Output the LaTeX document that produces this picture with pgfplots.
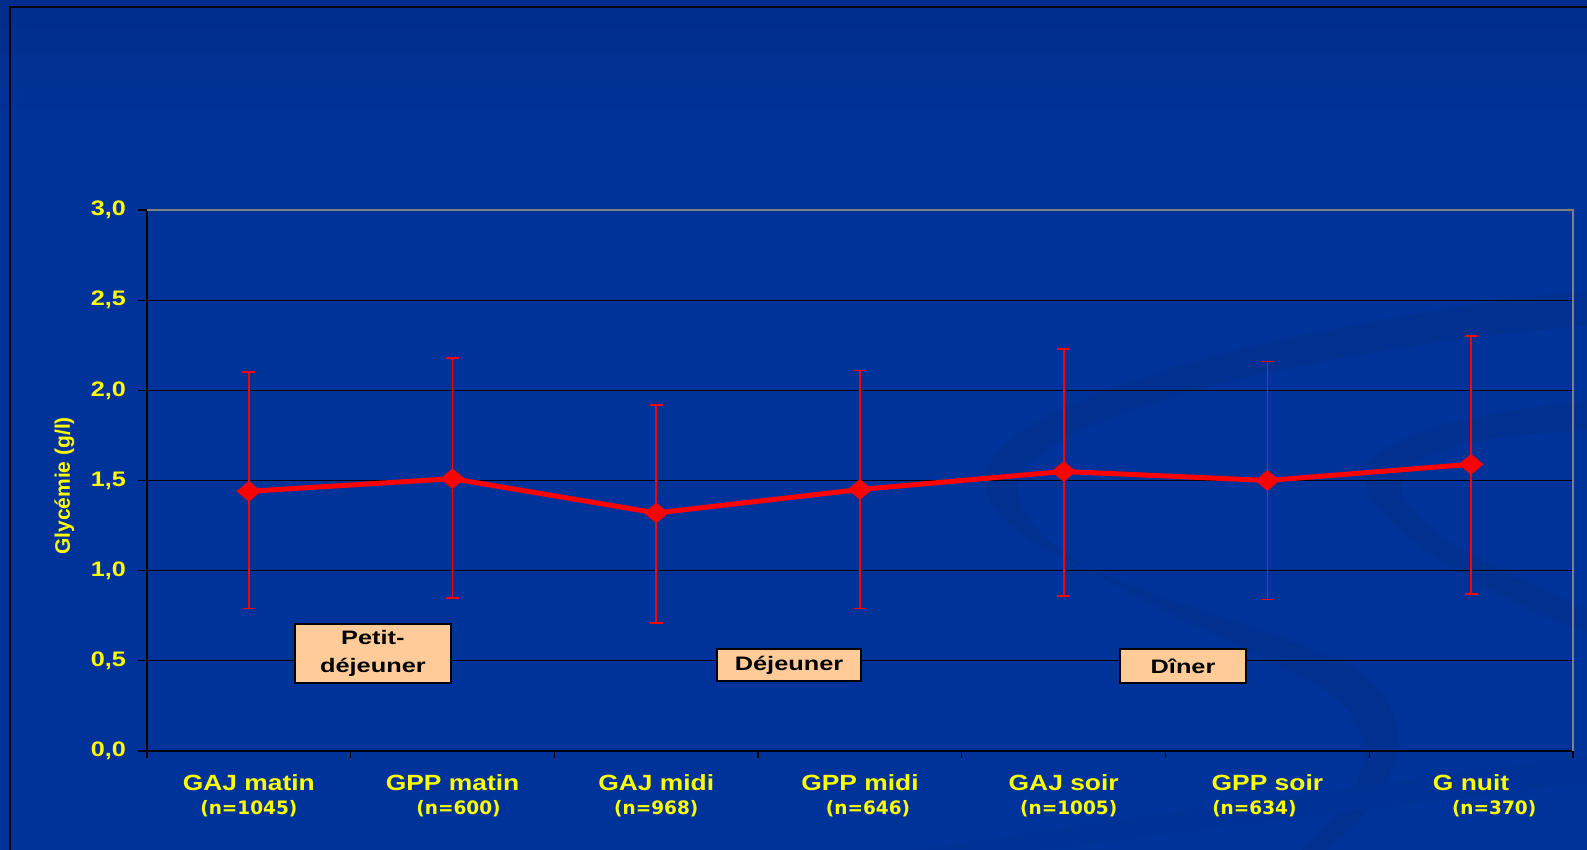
\documentclass[border=0pt]{standalone}
\usepackage{pgfplots}
\usepackage{pgfplotstable}
\pgfplotsset{compat=1.18}
\usepackage{fontspec}
\setmainfont{Liberation Sans}
\newfontfamily\catfont{Liberation Sans}[FakeStretch=1.2]
\newfontfamily\nfont{DejaVu Sans}
\newfontfamily\boxfont{Liberation Sans}[FakeStretch=1.3]

\definecolor{slideblue}{HTML}{003399}
\definecolor{slidedark}{HTML}{002D8A}
\definecolor{swoosh}{HTML}{003090}
\definecolor{swooshlight}{HTML}{003194}
\definecolor{txtyellow}{HTML}{FFFF00}
\definecolor{boxpeach}{HTML}{FFCC99}
\definecolor{framegray}{HTML}{808080}
\definecolor{curvered}{HTML}{FF0000}

% mean blood glucose (g/l) with upper / lower deviation
\pgfplotstableread{
x    y     ep    em
0.5  1.44  0.66  0.65
1.5  1.51  0.67  0.66
2.5  1.32  0.60  0.61
3.5  1.45  0.66  0.66
4.5  1.55  0.68  0.69
5.5  1.50  0.66  0.66
6.5  1.59  0.71  0.72
}\glycemie

\newcommand\cat[3][0pt]{{\catfont\bfseries\fontsize{22}{24}\selectfont #2}\\{\nfont\bfseries\fontsize{18.5}{24}\selectfont\hspace*{#1}#3}}

\begin{document}
\begin{tikzpicture}[x=1pt,y=1pt]
\path[use as bounding box] (0,0) rectangle (1587,850);
% slide background
\fill[slideblue] (-5,-5) rectangle (1592,855);
\shade[top color=slidedark, bottom color=slideblue] (-5,720) rectangle (1592,855);
% decorative swooshes
\fill[swoosh] (1592,560) .. controls (1300,530) and (985,450) .. (985,370)
  .. controls (985,290) and (1200,250) .. (1340,190)
  .. controls (1420,150) and (1420,70) .. (1320,-5) -- (1295,-5)
  .. controls (1385,70) and (1385,130) .. (1305,172)
  .. controls (1180,235) and (1018,295) .. (1018,362)
  .. controls (1018,430) and (1300,500) .. (1592,525) -- cycle;
\fill[swoosh] (1592,450) .. controls (1450,435) and (1365,410) .. (1365,372)
  .. controls (1365,330) and (1470,260) .. (1592,215) -- (1592,240)
  .. controls (1480,285) and (1398,330) .. (1402,366)
  .. controls (1406,400) and (1480,415) .. (1592,420) -- cycle;
\fill[swooshlight] (880,-5) .. controls (1150,35) and (1400,70) .. (1592,95) -- (1592,68)
  .. controls (1400,45) and (1150,15) .. (1010,-5) -- cycle;
% slide frame
\draw[black, line width=2.5pt] (10,-5) -- (10,843) -- (1592,843);

\begin{axis}[
  at={(147pt,99pt)}, anchor=south west,
  scale only axis, width=1426pt, height=541pt,
  xmin=0, xmax=7, ymin=0, ymax=3,
  axis x line*=bottom, axis y line*=left,
  x axis line style={-, black, line width=2pt},
  y axis line style={-, black, line width=2pt},
  ymajorgrids, grid style={black, line width=1.3pt},
  ytick={0,0.5,...,3},
  tick align=outside,
  ytick style={black, line width=1.3pt},
  major tick length=9pt,
  yticklabel style={font=\catfont\bfseries\fontsize{21}{24}\selectfont, text=txtyellow, inner sep=0pt, xshift=-12pt},
  /pgf/number format/.cd, fixed, fixed zerofill, precision=1, use comma, assume math mode=true,
  /pgfplots/.cd,
  xtick={0.5,1.5,...,6.5},
  xtick style={draw=none},
  xticklabels={
    \cat{GAJ matin}{(n=1045)},
    \cat[12pt]{GPP matin}{(n=600)},
    \cat{GAJ midi}{(n=968)},
    \cat[16pt]{GPP midi}{(n=646)},
    \cat[10pt]{GAJ soir}{(n=1005)},
    \cat[-26pt]{GPP soir}{(n=634)},
    \cat[46pt]{G nuit}{(n=370)}},
  xticklabel style={align=center, text=txtyellow, inner sep=0pt, yshift=-14pt, font=\fontsize{22}{24}\selectfont},
  extra x ticks={0,1,...,7},
  extra x tick labels={},
  extra x tick style={xtick style={draw=black, line width=1.3pt}, major tick length=7pt},
  ylabel={Glycémie (g/l)},
  every axis y label/.style={at={(axis description cs:-0.058,0.49)}, rotate=90, anchor=center,
    font=\bfseries\fontsize{21}{24}\selectfont, text=txtyellow},
  clip=false,
]
\addplot[curvered, line width=5pt, mark=diamond*, mark size=10pt,
  mark options={xscale=1.6, fill=curvered, draw=curvered, line width=0.5pt},
  error bars/.cd, y dir=both, y explicit,
  error bar style={curvered, line width=1.7pt},
  error mark options={rotate=90, mark size=6.5pt, curvered, line width=1.7pt}]
  table[x=x, y=y, y error plus=ep, y error minus=em] {\glycemie};

\draw[framegray, line width=2pt] (rel axis cs:0,1) -- (rel axis cs:1,1) -- (rel axis cs:1,0);

\node[draw=black, line width=1.6pt, fill=boxpeach, minimum width=156pt, minimum height=59pt,
  inner sep=0pt, align=center, font=\boxfont\bfseries\fontsize{19.5}{28}\selectfont]
  at (axis cs:1.109,0.541) {Petit-\\déjeuner};
\node[draw=black, line width=1.6pt, fill=boxpeach, minimum width=144pt, minimum height=32pt,
  inner sep=0pt, font=\boxfont\bfseries\fontsize{19.5}{24}\selectfont]
  at (axis cs:3.152,0.477) {Déjeuner};
\node[draw=black, line width=1.6pt, fill=boxpeach, minimum width=126pt, minimum height=34pt,
  inner sep=0pt, font=\boxfont\bfseries\fontsize{19.5}{24}\selectfont]
  at (axis cs:5.086,0.471) {Dîner};
\end{axis}
\end{tikzpicture}
\end{document}
